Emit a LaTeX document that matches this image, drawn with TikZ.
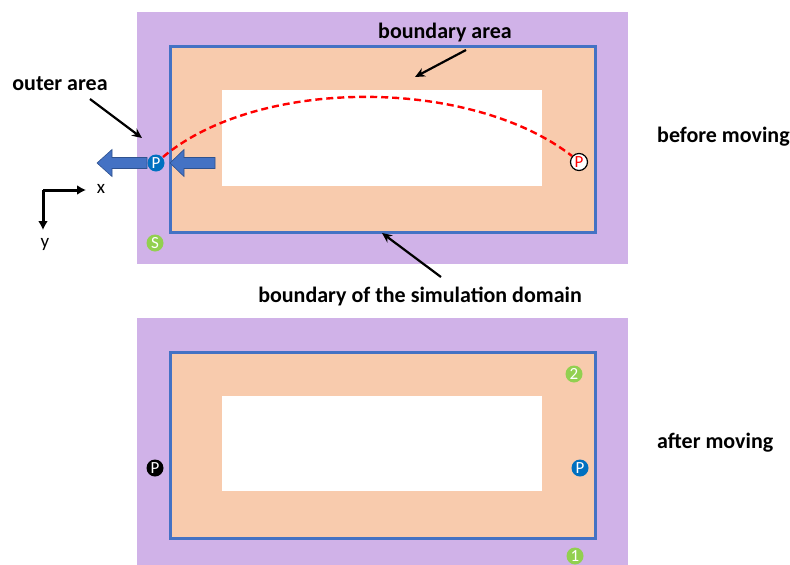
\documentclass[tikz,border=0pt]{standalone}
\usepackage{fontspec}
\setmainfont{Carlito}
\usetikzlibrary{arrows.meta}
\definecolor{outer}{RGB}{208,178,232}
\definecolor{peach}{RGB}{248,203,173}
\definecolor{bblue}{RGB}{68,114,196}
\definecolor{bdark}{RGB}{47,82,143}
\definecolor{pblue}{RGB}{0,112,192}
\definecolor{pgreen}{RGB}{146,208,80}
\begin{document}
\begin{tikzpicture}[x=1pt,y=-1pt,
  lbl/.style={font=\fontsize{22}{24}\selectfont\bfseries, inner sep=0pt},
  plain/.style={font=\fontsize{19}{20}\selectfont, inner sep=0pt},
  note/.style={draw=black, line width=2.2pt, -{Stealth[length=10pt,width=9pt]}},
  ptc/.style={circle, minimum size=17pt, inner sep=0pt, font=\fontsize{17}{17}\selectfont},
  bluep/.style={ptc, fill=pblue, text=white},
  greenp/.style={ptc, fill=pgreen, text=white},
  blackp/.style={ptc, fill=black, text=white},
  redp/.style={ptc, fill=white, draw=black, line width=1.2pt, text=red},
  blockarrow/.style={fill=bblue, draw=bdark, line width=0.6pt},
  simbox/.style={draw=bblue, line width=3pt, fill=peach}]
\useasboundingbox (0,0) rectangle (790,565);
% ---------- top panel
\fill[outer] (137,12) rectangle (628,264);
\draw[simbox] (170,46) rectangle (595,232);
\fill[white] (222,90) rectangle (542,186);
% ---------- bottom panel
\fill[outer] (137,318) rectangle (628,565);
\draw[simbox] (170,352) rectangle (595,538);
\fill[white] (222,396) rectangle (542,491);
% ---------- dashed trajectory
\coordinate (cs) at (163,157);
\coordinate (ce) at (572,156);
\draw[red, line width=2.4pt, dash pattern=on 7pt off 4pt] (cs) .. controls (258,77) and (470,77) .. (ce);
\node[redp] (pr) at (579,162) {P};
% ---------- block arrows
\draw[blockarrow] (97,163) -- (112,149.5) -- (112,157.5) -- (147,157.5) -- (147,168.5) -- (112,168.5) -- (112,176.5) -- cycle;
\draw[blockarrow] (170,163) -- (184,149.5) -- (184,157.5) -- (215,157.5) -- (215,168.5) -- (184,168.5) -- (184,176.5) -- cycle;
\node[bluep] (pl) at (156,163) {P};
% ---------- other markers
\node[greenp] (s) at (155,243) {S};
\node[greenp] (n2) at (574,374) {2};
\node[bluep] (p2) at (580,468) {P};
\node[blackp] (p3) at (155,468) {P};
\node[greenp] (n1) at (575,556) {1};
% ---------- labels
\node[lbl] (ba) at (445,33) {boundary area};
\coordinate (bat) at (415,77);
\draw[note] (466,50) -- (bat);
\node[lbl] (oa) at (60,84) {outer area};
\coordinate (oat) at (142,138);
\draw[note] (90,99) -- (oat);
\node[lbl] (bd) at (420,296) {boundary of the simulation domain};
\coordinate (bdt) at (382,233);
\draw[note] (441,277) -- (bdt);
\node[lbl, anchor=west] (bm) at (657,137) {before moving};
\node[lbl, anchor=west] (am) at (657,443) {after moving};
% ---------- axes
\coordinate (o) at (43,190);
\coordinate (xe) at (86,190);
\coordinate (ye) at (43,230);
\draw[line width=3pt, -{Latex[length=9pt,width=10pt]}] (o) -- (xe);
\draw[line width=3pt, -{Latex[length=9pt,width=10pt]}] (o) -- (ye);
\node[plain] (xl) at (101,189) {x};
\node[plain] (yl) at (45,244) {y};
\end{tikzpicture}
\end{document}
